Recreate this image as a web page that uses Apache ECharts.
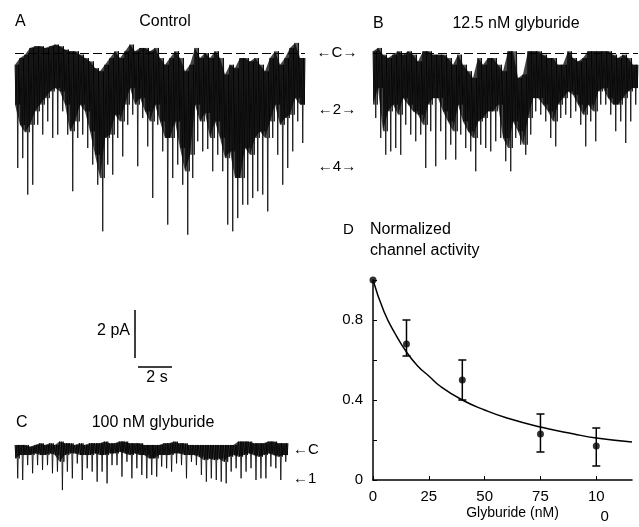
<!DOCTYPE html>
<html><head><meta charset="utf-8">
<script src="https://cdn.jsdelivr.net/npm/echarts@6/dist/echarts.min.js"></script>
<style>html,body{margin:0;padding:0;background:#fff}#c{width:639px;height:527px}</style>
</head><body><div id="c"></div>
<script>
// ---- Panel A (Control) : current in pA per 5-px bin (top of noise, bottom of dense band, spike tip)
const A_top=[-0.49,-0.21,-0.07,0.21,0.28,0.28,0.21,0.28,0.35,0.28,0.14,0.07,0.07,-0.07,-0.21,-0.35,-0.63,-0.76,-0.49,
 -0.21,0.07,-0.21,0.07,0.35,0.07,0.21,0.21,0.07,0.21,-0.21,-0.49,-0.21,0.07,-0.21,-0.76,-0.49,0.21,-0.21,0.0,
 -0.21,0.07,-0.21,-0.90,-0.49,-0.63,-0.21,-0.21,-0.35,-0.21,-0.49,-0.76,-0.21,0.07,-0.49,-0.21,0.21,0.42,-0.21];
const A_core=[-2.15,-3.0,-3.3,-2.99,-2.43,-2.15,-1.88,-1.60,-1.46,-1.60,-2.15,-3.26,-2.85,-2.15,-2.43,-3.26,-4.24,-5.21,-3.54,
 -3.40,-2.57,-2.85,-2.15,-1.46,-2.15,-1.88,-2.43,-2.85,-2.15,-2.85,-3.54,-3.54,-2.85,-3.96,-4.93,-4.24,-2.15,-2.85,-2.50,
 -3.54,-2.85,-3.54,-4.38,-4.10,-5.21,-5.21,-3.96,-4.24,-3.54,-3.26,-3.54,-2.85,-2.15,-2.99,-2.71,-2.57,-1.88,-2.15];
const A_peak=[-4.79,-4.38,-5.90,-5.49,-2.99,-3.40,-2.85,-3.54,-3.40,-2.43,-3.40,-5.76,-3.54,-3.40,-3.96,-4.65,-5.49,-7.43,-4.65,
 -5.07,-3.54,-4.31,-2.99,-2.57,-4.72,-2.71,-3.89,-6.04,-2.99,-4.10,-7.15,-5.21,-4.65,-5.49,-7.57,-5.21,-3.68,-4.10,-4.0,
 -4.93,-4.24,-4.93,-7.15,-7.43,-6.88,-6.32,-6.32,-6.04,-5.76,-5.90,-6.60,-3.54,-4.24,-5.49,-4.79,-4.10,-2.85,-3.75];
// ---- Panel B (12.5 nM glyburide)
const B_top=[0.07,0.21,-0.07,-0.21,-0.07,0.07,-0.07,0.07,-0.07,-0.35,0.07,0.07,-0.07,-0.07,-0.07,-0.21,-0.49,-0.07,-0.49,-0.76,-1.04,-0.21,-0.49,-0.21,-0.21,-0.49,
 -0.76,0.07,0.07,-1.04,-0.90,0.07,0.07,0.07,-0.07,-0.21,-0.21,-0.49,-0.49,0.07,-0.21,-0.35,-0.21,0.07,0.07,0.07,0.07,0.07,-0.07,-0.21,-0.07,-0.21,-0.49];
const B_core=[-2.15,-1.46,-3.26,-2.43,-2.15,-2.57,-1.88,-2.15,-2.43,-2.57,-2.99,-2.15,-1.88,-1.88,-2.43,-2.85,-3.26,-2.15,-2.85,-3.26,-3.54,-2.85,-2.71,-2.43,-2.43,-2.15,
 -3.54,-3.96,-2.85,-3.26,-3.82,-2.71,-1.88,-1.88,-2.15,-2.43,-2.85,-2.15,-1.88,-1.60,-1.74,-2.15,-2.57,-2.15,-2.43,-1.60,-1.46,-1.88,-2.15,-2.15,-1.88,-1.60,-1.46];
const B_peak=[-2.71,-3.54,-4.24,-4.10,-3.96,-4.24,-2.99,-3.40,-3.68,-3.40,-4.79,-3.26,-4.72,-3.26,-4.44,-3.82,-4.44,-3.40,-3.96,-4.10,-4.93,-3.82,-3.96,-4.10,-3.68,-3.54,
 -4.51,-4.93,-3.54,-3.82,-4.24,-3.40,-2.43,-2.57,-2.85,-3.54,-3.89,-2.71,-2.57,-2.71,-2.43,-2.99,-3.89,-2.85,-3.68,-2.15,-2.15,-2.57,-3.26,-2.85,-3.75,-2.85,-2.15];
// ---- Panel C (100 nM glyburide)
const C_top=[0.21,0.21,0.21,0.14,0.21,0.28,0.21,0.28,0.21,0.35,0.28,0.28,0.21,0.28,0.21,0.28,0.28,0.28,0.35,0.28,0.28,0.35,0.35,0.28,0.28,0.28,0.21,
 0.21,0.21,0.21,0.28,0.28,0.35,0.28,0.28,0.21,0.21,0.21,0.21,0.21,0.21,0.21,0.21,0.21,0.21,0.35,0.35,0.35,0.28,0.28,0.28,0.35,0.35,0.28,0.28];
const C_core=[-0.35,-0.21,-0.21,-0.21,-0.14,-0.21,-0.21,-0.14,-0.21,-0.49,-0.21,-0.14,-0.14,-0.21,-0.21,-0.21,-0.14,-0.21,-0.21,-0.14,-0.14,-0.07,-0.14,-0.21,-0.14,-0.21,-0.21,
 -0.35,-0.35,-0.21,-0.21,-0.21,-0.14,-0.14,-0.21,-0.21,-0.21,-0.28,-0.42,-0.35,-0.42,-0.35,-0.49,-0.28,-0.21,-0.28,-0.21,-0.14,-0.21,-0.28,-0.21,-0.14,-0.21,-0.28,-0.21];
const C_peak=[-1.18,-1.25,-0.63,-0.97,-0.63,-0.83,-0.63,-0.97,-0.90,-1.67,-0.90,-1.18,-0.56,-1.25,-0.76,-0.90,-1.32,-0.90,-1.39,-0.63,-0.63,-1.11,-0.49,-1.18,-0.76,-1.04,-1.18,
 -1.04,-1.11,-0.69,-0.76,-0.90,-0.56,-0.63,-1.18,-0.49,-0.63,-1.04,-1.32,-1.18,-1.25,-1.32,-1.39,-0.90,-0.76,-1.18,-0.90,-0.76,-1.25,-1.18,-1.18,-0.69,-0.76,-1.25,-0.49];
// ---- Panel D (dose response)
const doseNM=[0,15,40,75,100];
const activity=[1.0,0.68,0.50,0.23,0.17];
const errLow=[1.0,0.62,0.40,0.14,0.07];
const errHigh=[1.0,0.80,0.60,0.33,0.26];
const fitNM=[0,5,10,15,20,25,30,40,50,60,75,90,100,116];
const fitAct=[1.0,0.84,0.73,0.64,0.57,0.52,0.47,0.40,0.35,0.31,0.265,0.23,0.21,0.19];
const xTicks=[0,25,50,75,100];
const yTicks=[0,0.2,0.4,0.6,0.8,1.0];
const yLabels=[0,0.4,0.8];

const FONT='"Liberation Sans", Arial, sans-serif';
function rows(t,c,p){return t.map((v,i)=>[i,v,c[i],p[i]]);}
function makeTrace(top,core,peak){
  return function(params, api){
    const i=api.value(0);
    const n=top.length;
    const t=api.coord([i, top[i]]), c=api.coord([i, core[i]]), p=api.coord([i, peak[i]]);
    const w=api.coord([i+1,0])[0]-t[0];
    const x0=t[0];
    const kids=[];
    const j=Math.min(i+1,n-1);
    const t2=api.coord([i+1, top[j]]), c2=api.coord([i+1, core[j]]);
    kids.push({type:'polygon',shape:{points:[[x0,t[1]],[x0+w,t2[1]],[x0+w,c2[1]],[x0,c[1]]]},style:{fill:'#000',opacity:0.74}});
    const pts=[[x0,t[1]],[x0+w*0.2,c[1]],[x0+w*0.4,t[1]],[x0+w*0.55,p[1]],[x0+w*0.7,t[1]],[x0+w*0.85,c[1]],[x0+w,t2[1]]];
    kids.push({type:'polyline',shape:{points:pts},style:{stroke:'#000',lineWidth:0.8,fill:null}});
    return {type:'group',children:kids};
  };
}
function errItem(params, api){
  const x=api.value(0);
  const lo=api.coord([x, api.value(1)]);
  const hi=api.coord([x, api.value(2)]);
  const c=4;
  return {type:'group',children:[
    {type:'line',shape:{x1:lo[0],y1:lo[1],x2:hi[0],y2:hi[1]},style:{stroke:'#000',lineWidth:1.5}},
    {type:'line',shape:{x1:lo[0]-c,y1:lo[1],x2:lo[0]+c,y2:lo[1]},style:{stroke:'#000',lineWidth:1.5}},
    {type:'line',shape:{x1:hi[0]-c,y1:hi[1],x2:hi[0]+c,y2:hi[1]},style:{stroke:'#000',lineWidth:1.5}}
  ]};
}
const dashed={silent:true,symbol:'none',label:{show:false},lineStyle:{color:'#000',type:[9,4],width:1},data:[{yAxis:0}]};
const hiddenX=(n)=>({type:'value',min:0,max:n,show:false});
const hiddenY=(mn,mx)=>({type:'value',min:mn,max:mx,show:false});

const chart=echarts.init(document.getElementById('c'),null,{renderer:'canvas'});
const txt=(x,y,s,size,align)=>({type:'text',x:x,y:y,style:{text:s,font:size+'px '+FONT,fill:'#000',textAlign:align||'left',textVerticalAlign:'middle'}});
chart.setOption({
  animation:false,
  backgroundColor:'#fff',
  grid:[
    {left:15,top:29,width:290,height:216},
    {left:373,top:29,width:265,height:216},
    {left:15,top:426,width:273,height:72},
    {left:373,top:280,width:259,height:200}
  ],
  xAxis:[
    Object.assign(hiddenX(A_top.length),{gridIndex:0}),
    Object.assign(hiddenX(B_top.length),{gridIndex:1}),
    Object.assign(hiddenX(C_top.length),{gridIndex:2}),
    {gridIndex:3,type:'value',min:0,max:116,
     name:'Glyburide (nM)',nameLocation:'middle',nameGap:26,nameMoveOverlap:false,
     nameTextStyle:{fontFamily:FONT,fontSize:14,color:'#000',padding:[0,0,0,20]},
     axisLine:{lineStyle:{color:'#000',width:1.5}},
     axisTick:{inside:true,length:4,customValues:xTicks,lineStyle:{color:'#000',width:1}},
     axisLabel:{customValues:xTicks,margin:9,fontFamily:FONT,fontSize:15,color:'#000',
       formatter:v=>v===100?'10\n{r|0}':String(v),
       rich:{r:{fontFamily:FONT,fontSize:15,color:'#000',padding:[5,0,0,17]}}},
     splitLine:{show:false}}
  ],
  yAxis:[
    Object.assign(hiddenY(-8,1),{gridIndex:0}),
    Object.assign(hiddenY(-8,1),{gridIndex:1}),
    Object.assign(hiddenY(-2,1),{gridIndex:2}),
    {gridIndex:3,type:'value',min:0,max:1.0,
     axisLine:{show:true,lineStyle:{color:'#000',width:1.5}},
     axisTick:{show:true,inside:true,length:4,customValues:yTicks,lineStyle:{color:'#000',width:1}},
     axisLabel:{customValues:yLabels,margin:10,fontFamily:FONT,fontSize:15,color:'#000',formatter:v=>String(v)},
     splitLine:{show:false}}
  ],
  series:[
    {type:'custom',xAxisIndex:0,yAxisIndex:0,renderItem:makeTrace(A_top,A_core,A_peak),data:rows(A_top,A_core,A_peak),encode:{x:0,y:[1,2,3]},markLine:dashed},
    {type:'custom',xAxisIndex:1,yAxisIndex:1,renderItem:makeTrace(B_top,B_core,B_peak),data:rows(B_top,B_core,B_peak),encode:{x:0,y:[1,2,3]},markLine:dashed},
    {type:'custom',xAxisIndex:2,yAxisIndex:2,renderItem:makeTrace(C_top,C_core,C_peak),data:rows(C_top,C_core,C_peak),encode:{x:0,y:[1,2,3]}},
    {type:'line',xAxisIndex:3,yAxisIndex:3,smooth:true,symbol:'none',data:fitNM.map((x,i)=>[x,fitAct[i]]),lineStyle:{color:'#000',width:1.5},z:3},
    {type:'custom',xAxisIndex:3,yAxisIndex:3,renderItem:errItem,data:doseNM.map((x,i)=>[x,errLow[i],errHigh[i]]).filter(d=>d[1]!==d[2]),encode:{x:0,y:[1,2]},z:4},
    {type:'scatter',xAxisIndex:3,yAxisIndex:3,symbol:'circle',symbolSize:7,itemStyle:{color:'#000'},data:doseNM.map((x,i)=>[x,activity[i]]),z:5}
  ],
  graphic:[
    txt(15,22,'A',16),
    txt(165,22,'Control',16,'center'),
    txt(373,24,'B',16),
    txt(516,24,'12.5 nM glyburide',16,'center'),
    txt(16,423,'C',16),
    txt(153,423,'100 nM glyburide',16,'center'),
    txt(343,230,'D',15),
    txt(370,230,'Normalized',16),
    txt(370,251,'channel activity',16),
    txt(337,53,'←C→',15,'center'),
    txt(337,110,'←2→',15,'center'),
    txt(337,167,'←4→',15,'center'),
    txt(293,450,'←C',15),
    txt(293,479,'←1',15),
    txt(130,331,'2 pA',16,'right'),
    txt(157,378,'2 s',16,'center'),
    {type:'line',shape:{x1:135,y1:310,x2:135,y2:358},style:{stroke:'#000',lineWidth:1.5}},
    {type:'line',shape:{x1:138,y1:367,x2:172,y2:367},style:{stroke:'#000',lineWidth:1.5}}
  ]
});
</script></body></html>
